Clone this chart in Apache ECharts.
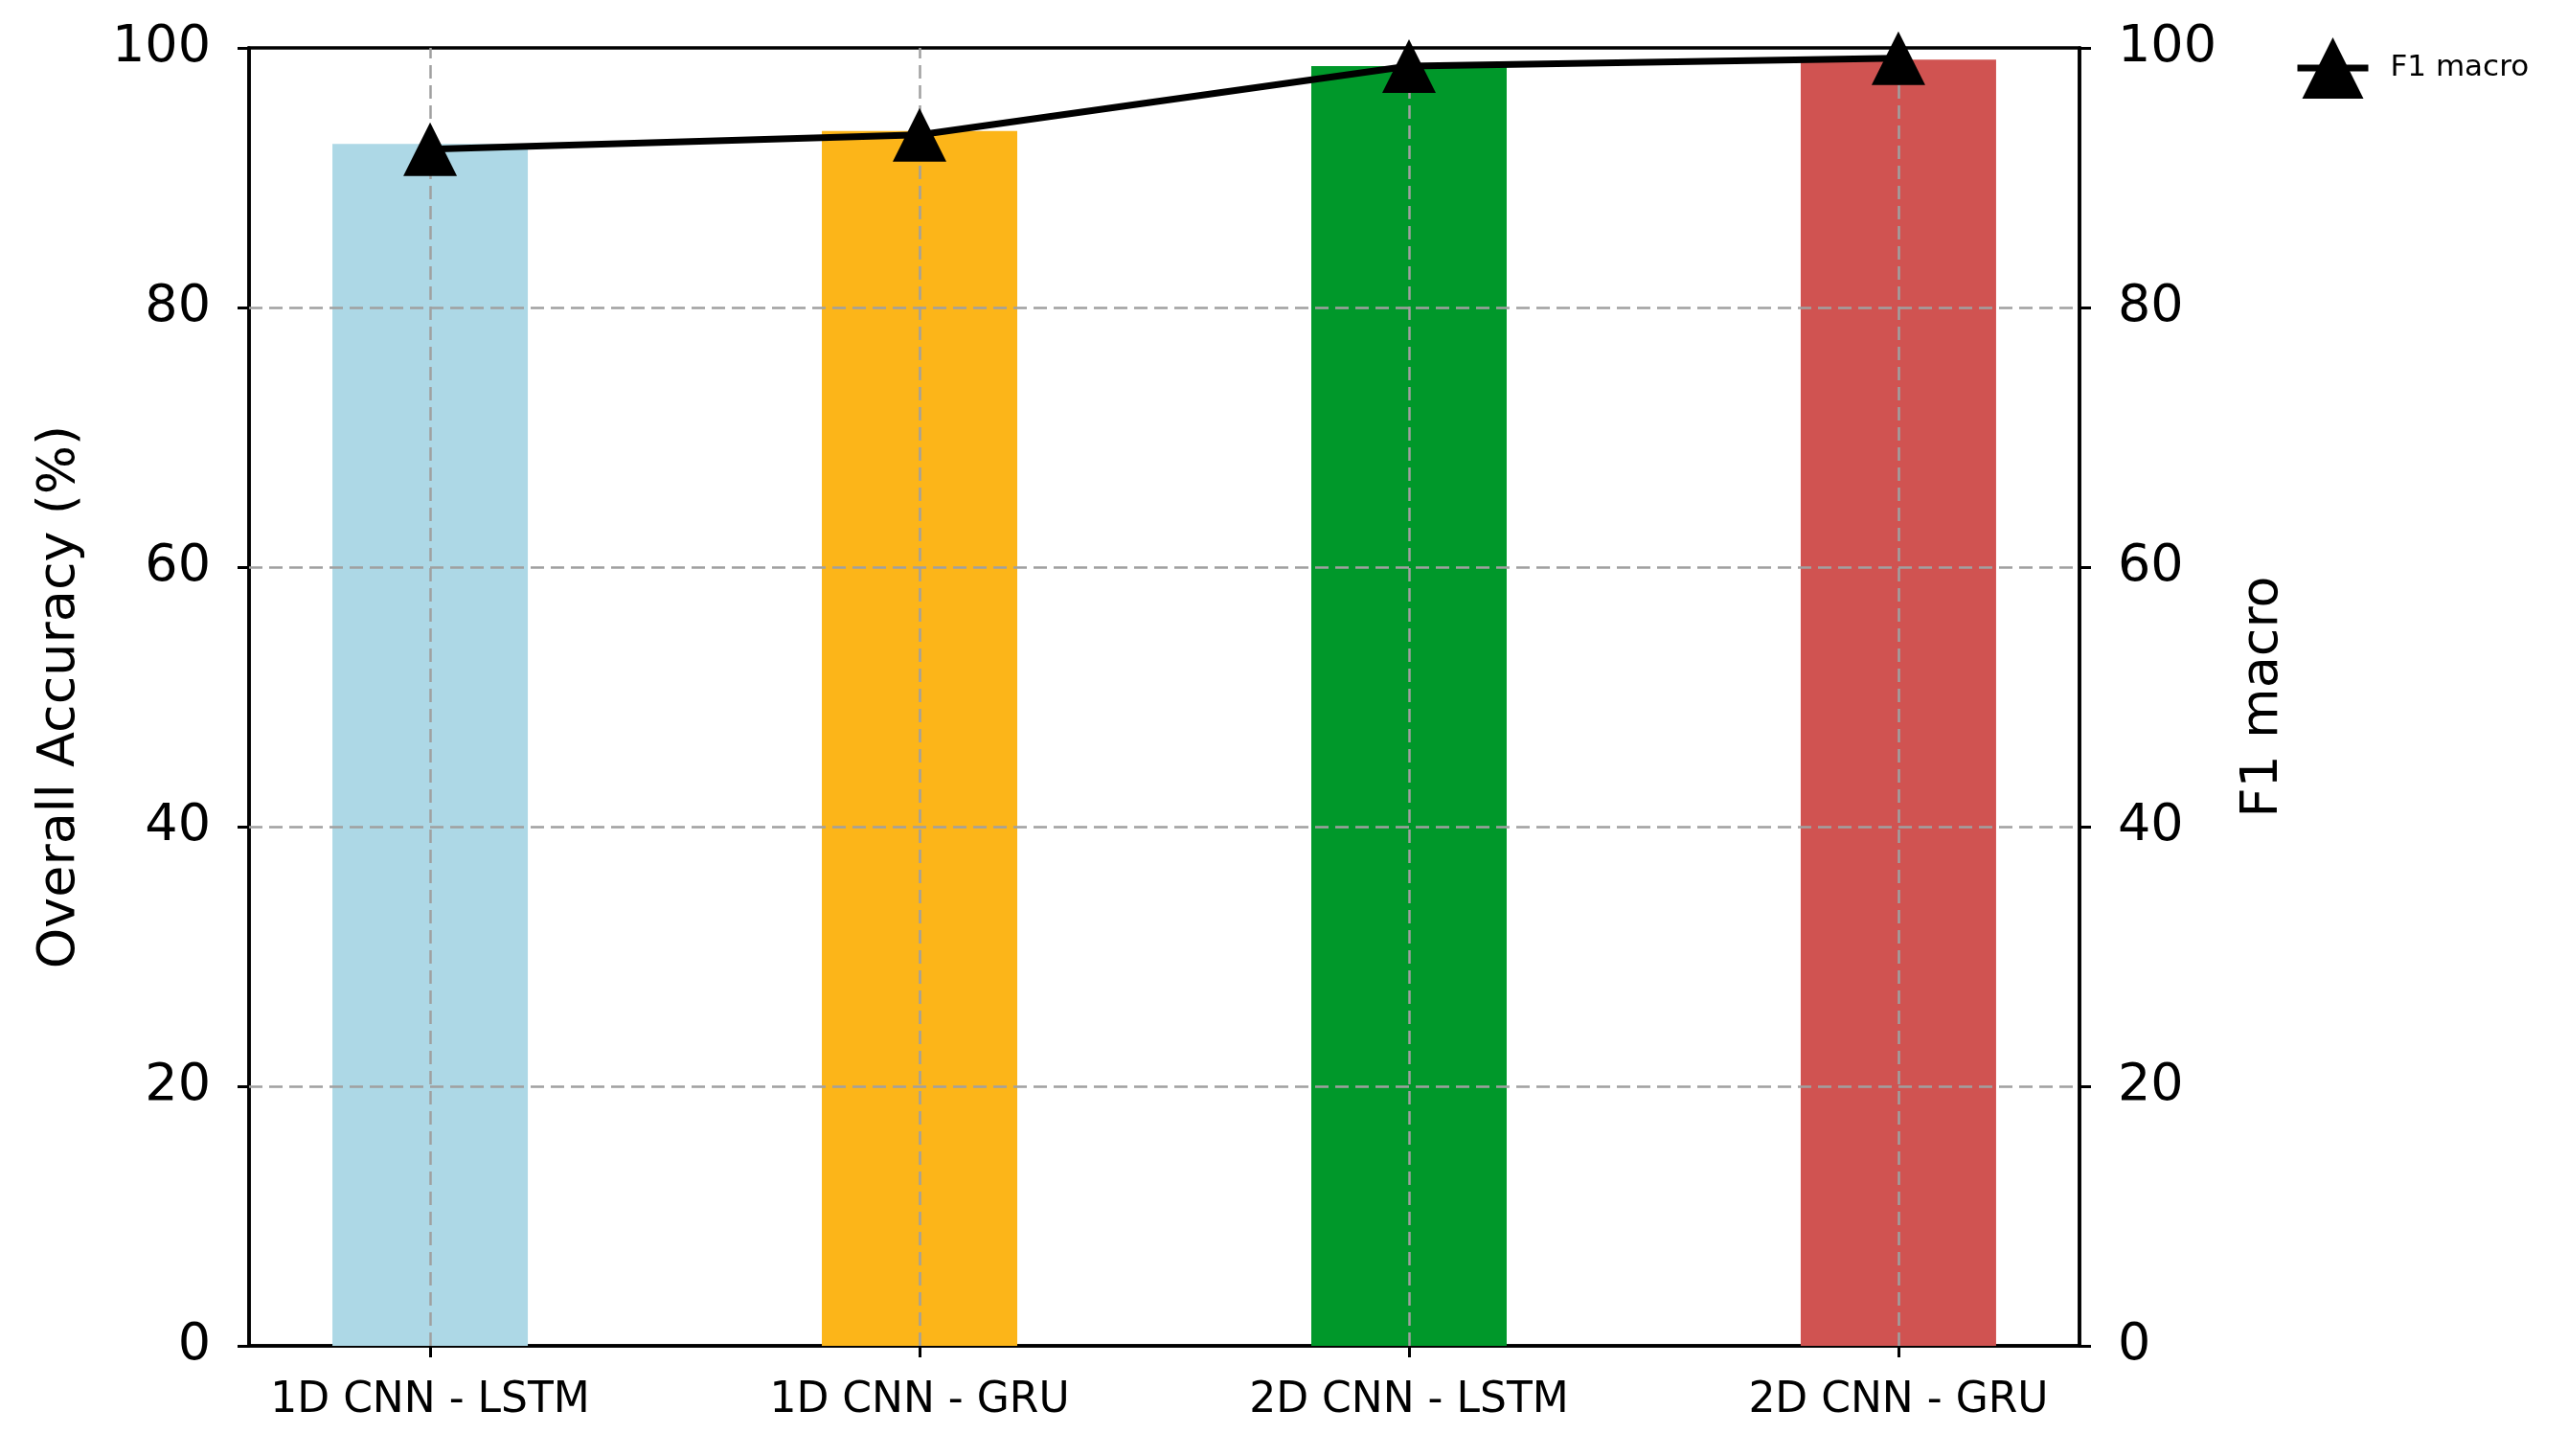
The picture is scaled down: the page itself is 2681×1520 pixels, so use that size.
<!DOCTYPE html>
<html>
<head>
<meta charset="utf-8">
<script src="https://cdn.jsdelivr.net/npm/echarts@6/dist/echarts.min.js"></script>
<style>
html, body { margin: 0; padding: 0; background: #fff; }
#chart { width: 2681px; height: 1520px; }
</style>
</head>
<body>
<div id="chart"></div>
<script>
// chart data
const categories = ['1D CNN - LSTM', '1D CNN - GRU', '2D CNN - LSTM', '2D CNN - GRU'];
const accuracy = [92.6, 93.6, 98.6, 99.1];
const f1Macro = [92.2, 93.3, 98.6, 99.2];
const yTicks = [0, 20, 40, 60, 80, 100];

const barColors = ['#add8e6', '#fcb519', '#00982a', '#d05351'];
const positions = categories.map((c, i) => i);
const font = 'DejaVu Sans';

const gridLine = {
    color: '#a0a0a0',
    width: 2.5,
    type: [14, 7]
};

function yAxisOpt(name, pos, gap) {
    return {
        type: 'value',
        position: pos,
        min: yTicks[0],
        max: yTicks[yTicks.length - 1],
        interval: yTicks[1] - yTicks[0],
        name: name,
        nameLocation: 'middle',
        nameGap: gap,
        nameTextStyle: { fontFamily: font, fontSize: 54, color: '#000' },
        axisLine: { show: true, onZero: false, lineStyle: { color: '#000', width: 3.5 } },
        axisTick: { show: true, inside: false, length: 12, lineStyle: { color: '#000', width: 3 } },
        axisLabel: { fontFamily: font, fontSize: 54, color: '#000', margin: 40 },
        splitLine: { show: false }
    };
}

const chart = echarts.init(document.getElementById('chart'));

// dashed grid: vertical at each category, horizontal at inner y ticks
const gridMarks = positions.map((p) => ({ xAxis: p }))
    .concat(yTicks.slice(1, -1).map((t) => ({ yAxis: t })));

const option = {
    backgroundColor: '#fff',
    animation: false,
    grid: {
        left: 260, right: 510, top: 50, bottom: 115,
        show: true, borderColor: '#000', borderWidth: 3.5
    },
    legend: {
        left: 2390, top: 34,
        itemWidth: 74, itemHeight: 80,
        data: ['F1 macro'],
        lineStyle: { width: 7 },
        textStyle: { fontFamily: font, fontSize: 31, color: '#000', padding: [0, 0, 0, 18] }
    },
    xAxis: {
        type: 'value',
        min: -0.37,
        max: 3.37,
        axisLine: { show: true, onZero: false, lineStyle: { color: '#000', width: 3.5 } },
        axisTick: { show: true, length: 12, customValues: positions, lineStyle: { color: '#000', width: 3 } },
        axisLabel: {
            customValues: positions,
            fontFamily: font, fontSize: 44, color: '#000', margin: 36,
            formatter: (v) => categories[Math.round(v)]
        },
        splitLine: { show: false }
    },
    yAxis: [
        yAxisOpt('Overall Accuracy (%)', 'left', 170),
        yAxisOpt('F1 macro', 'right', 165)
    ],
    series: [
        {
            name: 'Overall Accuracy',
            type: 'bar',
            barWidth: 204,
            data: accuracy.map((v, i) => ({ value: [i, v], itemStyle: { color: barColors[i] } })),
            markLine: {
                silent: true,
                symbol: 'none',
                label: { show: false },
                lineStyle: gridLine,
                z: 3,
                data: gridMarks
            }
        },
        {
            name: 'F1 macro',
            type: 'line',
            yAxisIndex: 1,
            z: 10,
            symbol: 'triangle',
            symbolSize: 56,
            lineStyle: { color: '#000', width: 7 },
            itemStyle: { color: '#000' },
            data: f1Macro.map((v, i) => [i, v])
        }
    ]
};

chart.setOption(option);
</script>
</body>
</html>
